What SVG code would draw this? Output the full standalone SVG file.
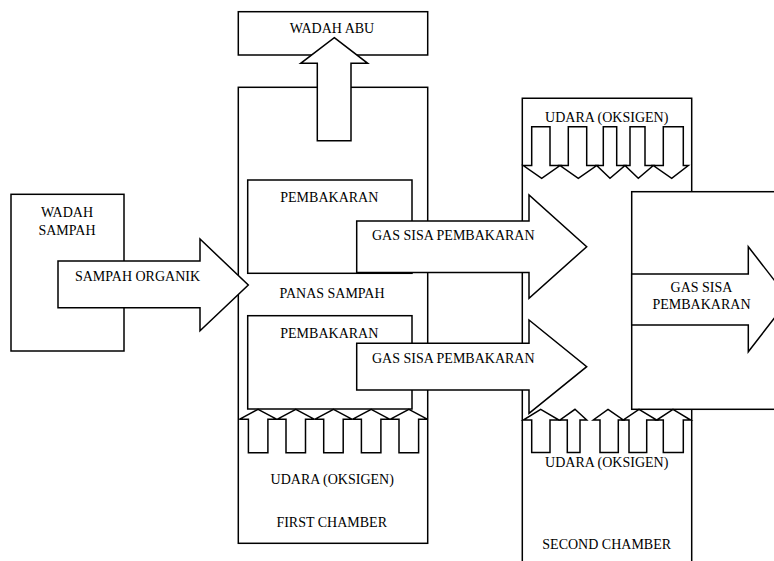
<svg xmlns="http://www.w3.org/2000/svg" width="774" height="561" viewBox="0 0 774 561">
<style>
.b{fill:#fff;stroke:#000;stroke-width:1.5}
.n{fill:none;stroke:#000;stroke-width:1.5}
text{font-family:"Liberation Serif","Times New Roman",serif;font-size:14px;fill:#000;text-anchor:middle}
</style>
<rect width="774" height="561" fill="#fff"/>
<g id="wadah-sampah">
<rect class="b" x="11" y="194.3" width="113" height="156.7"/>
<text x="67" y="217">WADAH</text>
<text x="67" y="235">SAMPAH</text>
</g>
<g id="wadah-abu">
<rect class="b" x="238.3" y="11.7" width="189.4" height="43.3"/>
<text x="332" y="33">WADAH ABU</text>
</g>
<g id="first-chamber">
<rect class="b" x="238.3" y="87.3" width="189.4" height="456"/>
<text x="332.2" y="484">UDARA (OKSIGEN)</text>
<text x="331.7" y="526.7">FIRST CHAMBER</text>
</g>
<g id="pembakaran-1">
<rect class="b" x="247.7" y="180" width="164.3" height="93.3"/>
<text x="329.3" y="202.3">PEMBAKARAN</text>
</g>
<text id="panas-sampah" x="332" y="298.3">PANAS SAMPAH</text>
<g id="pembakaran-2">
<rect class="b" x="247.7" y="315.7" width="164.3" height="93.3"/>
<text x="329.3" y="338.3">PEMBAKARAN</text>
</g>
<g id="second-chamber">
<path class="b" d="M522.3 570 V98.3 H691.7 V570"/>
<text x="606.7" y="121.7">UDARA (OKSIGEN)</text>
<text x="606.7" y="467.3">UDARA (OKSIGEN)</text>
<text x="606.7" y="549.3">SECOND CHAMBER</text>
</g>
<g id="third-box">
<rect class="b" x="631.7" y="191.7" width="160" height="217.6"/>
</g>
<g id="connectors">
<!-- ash up arrow -->
<polygon class="b" points="334.3,37.7 367.7,63.3 351,63.3 351,140.7 317.3,140.7 317.3,63.3 300.7,63.3"/>
<!-- sampah organik -->
<polygon class="b" points="58,261 200,261 200,239 248.3,285 200,330.7 200,307.7 58,307.7"/>
<text x="137.5" y="280.7">SAMPAH ORGANIK</text>
<!-- first chamber air arrows -->
<polygon class="b" points="258.1,409.3 277,419.3 267.9,419.3 267.9,452.7 248.4,452.7 248.4,419.3 239.3,419.3"/>
<polygon class="b" points="295.8,409.3 314.6,419.3 305.5,419.3 305.5,452.7 286,452.7 286,419.3 277,419.3"/>
<polygon class="b" points="333.5,409.3 352.3,419.3 343.2,419.3 343.2,452.7 323.7,452.7 323.7,419.3 314.6,419.3"/>
<polygon class="b" points="371.2,409.3 390,419.3 380.9,419.3 380.9,452.7 361.4,452.7 361.4,419.3 352.3,419.3"/>
<polygon class="b" points="408.9,409.3 427.7,419.3 418.6,419.3 418.6,452.7 399,452.7 399,419.3 390,419.3"/>
<!-- gas arrows -->
<polygon class="b" points="356.7,221 529,221 529,195 586.7,246.7 529,298.4 529,272.5 356.7,272.5"/>
<text x="453.3" y="240">GAS SISA PEMBAKARAN</text>
<polygon class="b" points="356.7,343.3 529,343.3 529,320 586.7,366.7 529,413.4 529,390 356.7,390"/>
<text x="453.3" y="362.5">GAS SISA PEMBAKARAN</text>
<!-- second chamber top air arrows (down) -->
<polygon class="b" points="531.7,126.7 550,126.7 550,165.5 560,165.5 541.7,178.3 523.3,165.5 531.7,165.5"/>
<polygon class="b" points="568.3,126.7 586.7,126.7 586.7,165.5 596.7,165.5 578.3,178.3 560,165.5 568.3,165.5"/>
<polygon class="b" points="603.3,126.7 616.7,126.7 616.7,165.5 625,165.5 610,178.3 596.7,165.5 603.3,165.5"/>
<polygon class="b" points="630,126.7 645,126.7 645,165.5 653.3,165.5 638.3,178.3 625,165.5 630,165.5"/>
<polygon class="b" points="663.3,126.7 683.3,126.7 683.3,165.5 688.3,165.5 671.7,178.3 653.3,165.5 663.3,165.5"/>
<!-- second chamber bottom air arrows (up) -->
<polygon class="b" points="540.7,409.3 559,420 550,420 550,452.5 531.7,452.5 531.7,420 523.3,420"/>
<polygon class="b" points="575,409.3 586.7,420 580,420 580,452.5 567.3,452.5 567.3,420 560,420"/>
<polygon class="b" points="608,409.3 623.3,420 618.3,420 618.3,452.5 600,452.5 600,420 593.3,420"/>
<polygon class="b" points="639,409.3 656.7,420 646.7,420 646.7,452.5 629,452.5 629,420 623.3,420"/>
<polygon class="b" points="673,409.3 690.7,420 683.3,420 683.3,452.5 663.3,452.5 663.3,420 656.7,420"/>
<!-- final gas arrow -->
<polygon class="b" points="631.7,274 748.3,274 748.3,246.7 789,299.2 748.3,351.7 748.3,325 631.7,325"/>
<text x="701.5" y="291.7">GAS SISA</text>
<text x="701.5" y="309">PEMBAKARAN</text>
</g>
</svg>
